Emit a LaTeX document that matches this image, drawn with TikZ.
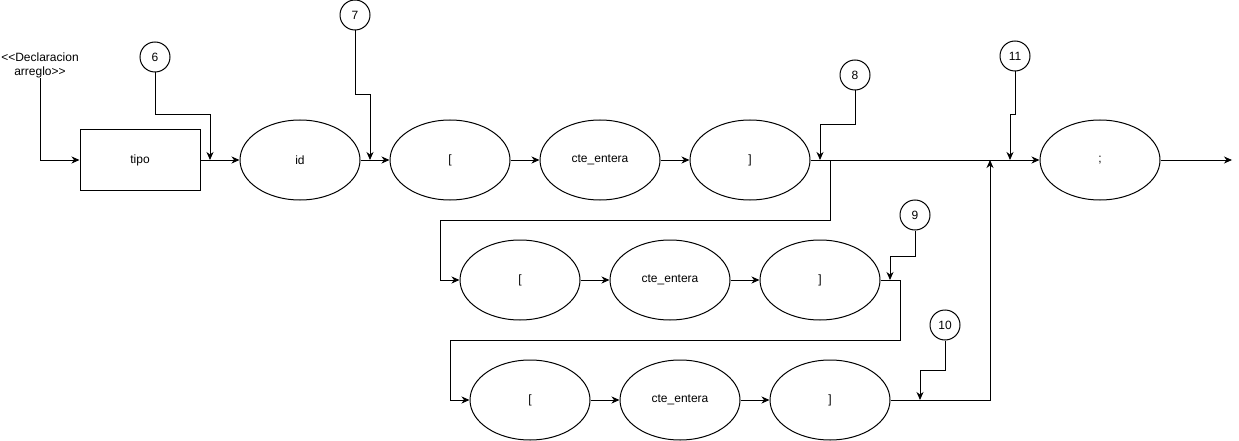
\documentclass[tikz,border=0pt]{standalone}
\usepackage{fontspec}
\setmainfont{Liberation Sans}
\usetikzlibrary{arrows.meta,shapes.geometric}
\begin{document}
\begin{tikzpicture}[x=1pt,y=-1pt,
  line width=1pt,
  every node/.style={font=\fontsize{12}{14}\selectfont},
  tok/.style={draw,ellipse,minimum width=120pt,minimum height=80pt,inner sep=0pt},
  rbox/.style={draw,rectangle,minimum width=120pt,minimum height=60pt,inner sep=0pt},
  num/.style={draw,circle,minimum size=30pt,inner sep=0pt},
  arr/.style={-{Stealth[length=8pt,width=7pt,inset=2.5pt]}}]
\useasboundingbox (0,0) rectangle (1239,441);
% label
\node[align=center,inner sep=0pt] (lbl) at (40,65) {<\kern0pt<Declaracion\\arreglo>\kern0pt>};
% row 1
\node[rbox] (tipo) at (140,160) {tipo};
\node[tok] (id) at (300,160) {id};
\node[tok] (r1o) at (450,160) {[};
\node[tok] (r1c) at (600,160) {cte\_entera};
\node[tok] (r1x) at (750,160) {]};
\node[tok] (semi) at (1100,160) {;};
% row 2
\node[tok] (r2o) at (520,280) {[};
\node[tok] (r2c) at (670,280) {cte\_entera};
\node[tok] (r2x) at (820,280) {]};
% row 3
\node[tok] (r3o) at (530,400) {[};
\node[tok] (r3c) at (680,400) {cte\_entera};
\node[tok] (r3x) at (830,400) {]};
% numbered circles
\node[num] (n6) at (155,57) {6};
\node[num] (n7) at (355,15) {7};
\node[num] (n8) at (855,75) {8};
\node[num] (n9) at (915,215) {9};
\node[num] (n10) at (945,325) {10};
\node[num] (n11) at (1015,56) {11};
% junction coordinates
\coordinate (j6) at (210,160);
\coordinate (j7) at (370,160);
\coordinate (j8) at (820,160);
\coordinate (b1) at (830,160);
\coordinate (j9) at (890,280);
\coordinate (j10) at (920,400);
\coordinate (j11) at (1010,160);
\coordinate (up) at (990,160);
\coordinate (out) at (1232,160);
% main flow
\draw[arr] (lbl.south -| 40,0) |- (tipo.west);
\draw[arr] (tipo) -- (id);
\draw[arr] (id) -- (r1o);
\draw[arr] (r1o) -- (r1c);
\draw[arr] (r1c) -- (r1x);
\draw[arr] (r1x) -- (semi);
\draw[arr] (semi) -- (out);
\draw[arr] (b1) -- (830,220) -- (440,220) |- (r2o.west);
\draw[arr] (r2o) -- (r2c);
\draw[arr] (r2c) -- (r2x);
\draw[arr] (r2x.east) -- (900,280) -- (900,340) -- (450,340) |- (r3o.west);
\draw[arr] (r3o) -- (r3c);
\draw[arr] (r3c) -- (r3x);
\draw[arr] (r3x.east) -- (990,400) -- (up);
% numbered markers
\draw[arr] (n6.south) -- (155,115) -| (j6);
\draw[arr] (n7.south) -- (355,95) -| (j7);
\draw[arr] (n8.south) -- (855,125) -| (j8);
\draw[arr] (n9.south) -- (915,256) -| (j9);
\draw[arr] (n10.south) -- (945,370) -| (j10);
\draw[arr] (n11.south) -- (1015,115) -| (j11);
\end{tikzpicture}
\end{document}
